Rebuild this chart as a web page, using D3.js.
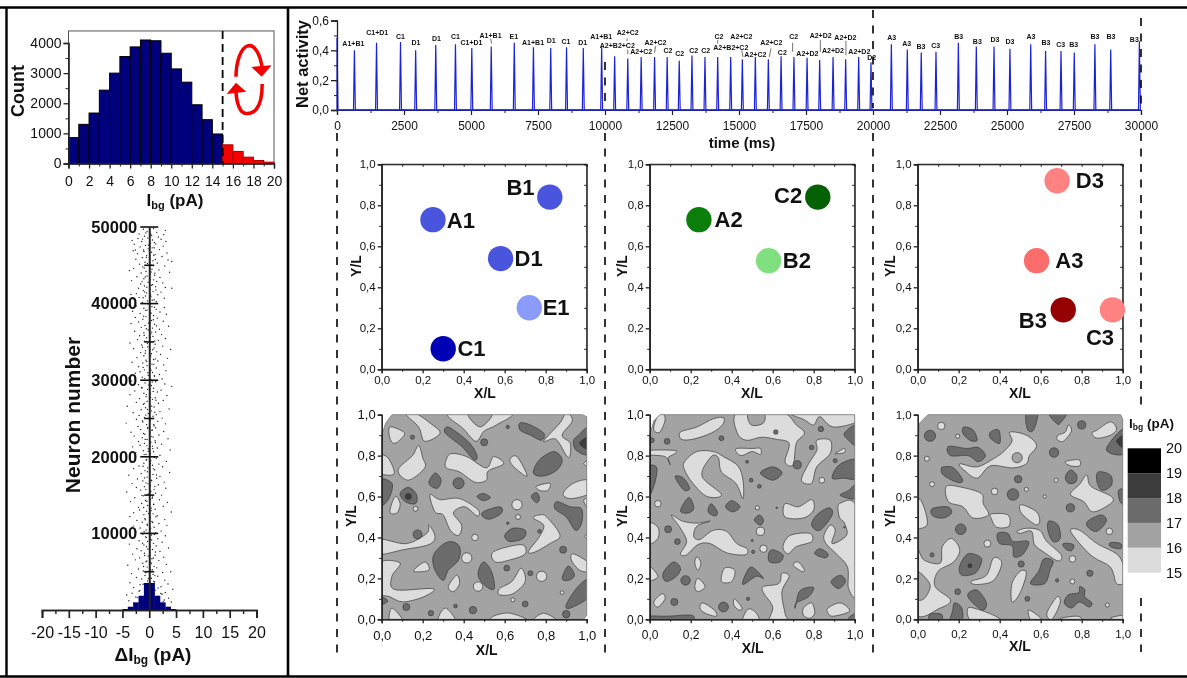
<!DOCTYPE html>
<html>
<head>
<meta charset="utf-8">
<script src="https://d3js.org/d3.v7.min.js"></script>
<style>
html, body { margin: 0; padding: 0; background: #fff; }
svg { display: block; filter: blur(0.4px); }
text { font-family: "Liberation Sans", Arial, sans-serif; fill: #111; }
</style>
</head>
<body>
<div id="chart"></div>
<script>
// top left histogram of background current
var ibgCounts = [860, 1300, 1675, 2435, 3000, 3550, 3870, 4100, 4075, 3660, 3140, 2700, 1950, 1455, 980, 620, 400, 210, 100, 45];
var ibgBinStart = d3.range(0, 20);

// bottom left histogram of current difference
var deltaBins = [-5, -4, -3, -2, -1, 0, 1, 2, 3, 4];
var deltaCounts = [470, 1550, 3600, 6700, 12700, 12700, 6700, 3600, 1550, 470];

// neuron scatter, pairs of delta Ibg and neuron number, read by eye
var scatterPoints = [
[3,49560],[2.7,49000],[-3.2,48250],[-2.6,47000],[3.1,48100],[4.2,45500],[-3.7,44300],[4.2,42000],[-3.4,41200],[-1.1,49700],[.8,49800],[-.4,49400],[1.4,49300],[-1.9,49100],[.3,49050],[-.9,48800],[1.7,48700],[-.3,48550],[2.2,48400],[-2.1,48500],[.6,48300],[-1.4,48100],[.2,47900],[1.2,47800],[-2.8,47750],[-.7,47600],[2.6,47500],[-1.7,47400],[.9,47300],[-.2,47150],[1.9,47050],[-3,46900],[-1,46800],[.4,46700],[3.3,46600],[-2.2,46500],[1.1,46400],[-.5,46250],[2.4,46150],[-1.3,46000],[.1,45900],[-2.5,45800],[3.5,45700],[.7,45600],[-.8,45400],[1.5,45300],[-1.8,45150],[.3,45050],[2.9,44900],[-1.2,44800],[-2.9,44600],[.5,44500],[1.8,44400],[-.6,44200],[3.8,44100],[-1.5,44000],[.2,43850],[1,43700],[-.4,43600],[-2.3,43500],[2,43400],[-1,43250],[.8,43100],[-3.3,43000],[1.4,42900],[-.2,42800],[2.5,42700],[-1.6,42550],[.4,42400],[-.9,42300],[1.2,42200],[3,42100],[-2,42000],[.1,41850],[-1.1,41700],[.7,41600],[2.2,41500],[-.5,41400],[-2.4,41300],[1.6,41150],[-.7,41000],[.3,40900],[-1.9,40800],[2.8,40700],[-3,40600],[.9,40500],[-.3,40350],[1.3,40250],[-1.3,40150],

[-3.9,39800],[-2.4,39700],[.5,39600],[2.8,39500],[-1,39400],[1.3,39250],[-.4,39150],[-3.1,39000],[2,38900],[.2,38800],[-1.7,38700],[3.2,38600],[.8,38450],[-.6,38300],[-2.6,38200],[1.5,38100],[-1.2,37950],[.4,37800],[2.6,37700],[-2,37600],[.1,37500],[-3.4,37400],[1,37300],[-.8,37150],[3.6,37050],[-1.5,36900],[.6,36800],[1.9,36650],[-.2,36550],[-2.7,36400],[1.2,36300],[-1,36200],[.3,36050],[2.3,35950],[-1.8,35800],[.7,35700],[-.5,35550],[3,35450],[-2.2,35300],[1.7,35200],[-.9,35100],[.2,34950],[-3.6,34850],[1.1,34700],[-1.4,34600],[2.5,34450],[-.3,34350],[.9,34200],[-2.9,34100],[4,34000],[-.7,33850],[1.4,33700],[-1.6,33600],[.4,33450],[2.1,33350],[-1,33200],[.1,33100],[-2.3,32950],[3.4,32850],[.8,32700],[-.6,32600],[1.6,32500],[-3.2,32350],[-1.2,32250],[.5,32100],[2.7,32000],[-.4,31900],[-2,31750],[1.3,31600],[.2,31500],[-.9,31350],[3.1,31250],[-1.7,31100],[.6,31000],[-2.6,30900],[1.9,30750],[-.2,30650],[1,30500],[-1.3,30400],[-3.8,30300],[2.4,30150],[.3,30050],

[-3.3,29900],[1.2,29800],[-.8,29650],[2.9,29500],[-2,29400],[.4,29300],[4.2,29200],[-1.4,29050],[.8,28950],[-.3,28800],[2.2,28700],[-2.7,28600],[1.5,28450],[-1,28300],[.2,28200],[-3.6,28100],[3.3,28000],[-.6,27850],[1.1,27700],[-1.8,27600],[.6,27500],[2.6,27350],[-.4,27250],[-2.4,27100],[1.7,27000],[-1.1,26850],[.1,26750],[-4.1,26600],[.9,26500],[-.7,26400],[3.7,26250],[-1.5,26150],[.4,26000],[2,25900],[-3,25750],[-.2,25650],[1.3,25500],[-1.9,25400],[.7,25300],[-.9,25150],[2.4,25050],[-2.4,24900],[.2,24800],[1.6,24650],[-1.2,24550],[-4.3,24400],[3,24300],[-.5,24200],[.9,24050],[-2.1,23950],[1.2,23800],[-.3,23700],[-1.6,23550],[.5,23450],[2.7,23300],[-3.4,23200],[.1,23100],[-.8,22950],[1.8,22850],[-2.8,22700],[.7,22600],[-1.3,22500],[3.5,22350],[-.4,22250],[1.1,22100],[-2,22000],[.3,21900],[-.9,21750],[2.3,21650],[-1.7,21500],[.6,21400],[-3.1,21300],[1.5,21150],[-.2,21050],[3.9,20900],[-1.1,20800],[.8,20650],[-2.5,20550],[.2,20450],[-.6,20300],[2,20200],[-1.4,20050],

[-2.6,19900],[1.3,19800],[-.5,19650],[.3,19500],[3.2,19400],[-3.4,19300],[-1,19150],[1.8,19050],[.6,18900],[-1.9,18800],[2.5,18700],[-.3,18550],[-2.9,18450],[1,18300],[-.8,18200],[.1,18050],[3.8,17950],[-1.5,17800],[.7,17700],[-3.8,17600],[2,17450],[-.4,17350],[1.4,17200],[-2.2,17100],[.4,16950],[-1.2,16850],[2.8,16700],[-.6,16600],[-3.2,16500],[1.7,16350],[.2,16250],[-.9,16100],[-2.4,16000],[3.1,15900],[.9,15750],[-1.6,15650],[.3,15500],[-4.2,15400],[1.2,15250],[-.2,15150],[2.3,15000],[-1.1,14900],[.6,14750],[-2.7,14650],[.1,14500],[1.9,14400],[-.7,14300],[-3.5,14150],[3.4,14050],[-1.4,13900],[.8,13800],[-.3,13650],[2.6,13550],[-2,13400],[.4,13300],[1.1,13150],[-1.8,13050],[-.5,12900],[4.1,12800],[-2.9,12700],[.7,12550],[-1,12450],[1.5,12300],[-3.6,12200],[.2,12050],[-.8,11950],[2.9,11800],[-2.3,11700],[.5,11550],[-1.3,11450],[1.8,11300],[-.4,11200],[3.3,11050],[-3,10950],[.9,10800],[-1.7,10700],[.1,10550],[-.6,10450],[2.2,10300],[-2.5,10200],[1.2,10050],

[-1.2,9900],[.4,9800],[3,9700],[-.7,9550],[-2.8,9450],[1.6,9300],[.2,9200],[-1.9,9050],[-.3,8950],[2.4,8850],[.8,8700],[-3.7,8600],[-1,8500],[1.3,8350],[-.5,8250],[3.6,8100],[-2.3,8000],[.6,7900],[-1.5,7750],[2,7650],[.1,7500],[-.9,7400],[-3.1,7300],[1.1,7150],[-.2,7050],[2.7,6900],[-1.8,6800],[.5,6700],[-2.6,6550],[1.8,6450],[-.6,6300],[.3,6200],[-1.2,6100],[3.2,5950],[-4,5850],[.9,5700],[-.4,5600],[1.4,5500],[-2,5350],[.2,5250],[-1.1,5100],[4,5000],[2.5,4900],[-3.3,4750],[.7,4650],[-.8,4500],[1.6,4400],[-2.4,4250],[.4,4150],[-1.4,4050],[2.9,3900],[-.3,3800],[1,3650],[-3.6,3550],[3.5,3400],[-1.7,3300],[.6,3200],[2.2,3050],[-2.9,2950],[-.6,2800],[4.4,2700],[1.2,2600],[-1.9,2450],[3,2300],[-3.2,2200],[2.4,2050],[-4.2,1950],[1.6,1800],[-2.5,1700],[3.6,1550],[-1.5,1450],[2.8,1300],[-3.8,1200],[4.1,1050],[-2.9,900]
];
// the denser cloud close to the axis
var scatterCore = [
[-.65,49230],[.45,48870],[-1.25,48420],[.95,47970],[-.15,47630],[.55,47280],[-1.05,46990],[.85,46320],[-.55,46040],[1.15,45770],[-.35,45240],[.75,44960],[-.95,44650],[.35,44120],[1.05,43960],[-.75,43470],[.15,43140],[-1.35,42870],[.65,42460],[-.45,42130],[1.25,41790],[-.85,41530],[.25,41120],[-1.15,40770],[.55,40430],[-.25,39970],[.95,39530],[-.65,39110],[.35,38740],[-1.05,38360],[.75,37890],[-.15,37460],[1.35,37090],[-.55,36710],[.45,36280],[-.95,35860],[.15,35590],[1.05,35110],[-.35,34780],[-1.25,34310],[.65,33980],[-.75,33520],[.25,33160],[1.15,32780],[-.45,32430],[.85,32060],[-1.15,31670],[.35,31320],[-.25,30970],[.95,30580],[-.85,30210],[.55,29770],[-.15,29360],[-1.35,28990],[.75,28540],[-.55,28120],[.25,27730],[1.25,27380],[-.95,26960],[.45,26610],[-.35,26180],[1.05,25810],[-.65,25440],[.15,25030],[-1.25,24680],[.85,24210],[-.25,23840],[.55,23490],[-1.05,23050],[.35,22640],[-.75,22270],[1.15,21860],[-.45,21430],[.65,21070],[-.15,20730],[-.95,20290],[.95,19920],[-.55,19560],[.25,19180],[-1.15,18760],[.75,18430],[-.35,18040],[1.35,17630],[-.85,17240],[.45,16880],[-.25,16470],[1.05,16110],[-.65,15720],[.15,15330],[-1.35,14960],[.55,14580],[-.45,14190],[.85,13760],[-1.05,13380],[.35,12970],[-.15,12620],[1.25,12180],[-.75,11790],[.65,11420],[-.35,11060],[.25,10670],[-.95,10230],[.95,9860],[-.55,9470],[.45,9130],[-1.25,8720],[.15,8340],[-.25,7960],[1.15,7580],[-.85,7120],[.75,6780],[-.45,6390],[.35,6030],[-1.05,5670],[.55,5260],[-.65,4860],[1.05,4490],[-.15,4110],[.85,3720],[-1.15,3360],[1.65,2880],[-1.75,2530],[.25,3090],[2.15,2160],[-2.2,1620],[2.6,1130]
];
var neuronTicks = [10000, 20000, 30000, 40000, 50000];
var neuronMinorTicks = [5000, 15000, 25000, 35000, 45000];
var deltaTicks = [-20, -15, -10, -5, 0, 5, 10, 15, 20];

// net activity spikes
var spikeTimes = [0, 650, 1475, 2370, 2935, 3685, 4420, 5030, 5755, 6615, 7330, 7975, 8565, 9190, 9875, 10360, 10850, 11350, 11850, 12320, 12770, 13245, 13730, 14205, 14690, 15125, 15610, 16095, 16570, 17050, 17540, 18010, 18510, 18980, 19465, 19925, 20685, 21280, 21800, 22350, 23185, 23855, 24515, 25110, 25885, 26440, 27015, 27510, 28280, 28870, 29940];
var spikeValues = [0.485, 0.40, 0.45, 0.455, 0.40, 0.435, 0.44, 0.415, 0.425, 0.45, 0.42, 0.415, 0.42, 0.415, 0.42, 0.36, 0.345, 0.355, 0.355, 0.355, 0.33, 0.365, 0.355, 0.355, 0.355, 0.34, 0.355, 0.34, 0.36, 0.355, 0.35, 0.335, 0.355, 0.34, 0.355, 0.32, 0.44, 0.405, 0.385, 0.39, 0.45, 0.425, 0.425, 0.41, 0.44, 0.395, 0.395, 0.385, 0.44, 0.405, 0.46];

// pattern labels over the spikes, with their time and level
var patternNames = ["A1+B1", "C1+D1", "C1", "D1", "D1", "C1", "C1+D1", "A1+B1", "E1", "A1+B1", "D1", "C1", "D1", "A1+B1", "A2+B2+C2", "A2+C2", "A2+C2", "A2+C2", "C2", "C2", "C2", "C2", "C2", "A2+B2+C2", "A2+C2", "A2+C2", "A2+C2", "C2", "C2", "A2+D2", "A2+D2", "A2+D2", "A2+D2", "A2+D2", "D2", "A3", "A3", "B3", "C3", "B3", "B3", "D3", "D3", "A3", "B3", "C3", "B3", "B3", "B3", "B3"];
var patternTimes = [610, 1500, 2370, 2945, 3710, 4420, 5020, 5730, 6600, 7315, 7990, 8540, 9165, 9860, 10460, 10850, 11350, 11885, 12350, 12785, 13310, 13760, 14255, 14695, 15087, 15610, 16206, 16617, 17040, 17550, 18047, 18507, 18968, 19490, 19950, 20697, 21256, 21790, 22338, 23197, 23893, 24552, 25112, 25896, 26455, 27002, 27488, 28284, 28881, 29751];
var patternLevels = [0.443, 0.517, 0.49, 0.45, 0.48, 0.492, 0.452, 0.50, 0.49, 0.454, 0.468, 0.459, 0.454, 0.49, 0.43, 0.519, 0.392, 0.454, 0.396, 0.379, 0.399, 0.399, 0.49, 0.421, 0.494, 0.372, 0.452, 0.388, 0.49, 0.379, 0.497, 0.399, 0.488, 0.394, 0.352, 0.488, 0.443, 0.425, 0.434, 0.49, 0.459, 0.47, 0.461, 0.49, 0.454, 0.439, 0.439, 0.49, 0.49, 0.472];
var leaderLines = [[5730, .479, 5770, .445], [10825, .479, 10825, .463], [10850, .405, 10850, .374], [11885, .428, 11850, .383], [14205, .468, 14205, .445], [15100, .40, 15150, .356], [16194, .412, 16132, .356], [17002, .45, 17002, .39], [18035, .468, 18035, .39], [18990, .463, 18990, .367]];

// stimulus positions in each square
var sitePanels = [
  { names: ["A1", "B1", "D1", "E1", "C1"], xs: [.25, .82, .58, .72, .30], ys: [.73, .84, .54, .30, .10],
    colors: ["#4a55de", "#4a55de", "#4a55de", "#8b9bfa", "#0000b4"],
    nameXs: [.386, .677, .717, .851, .438], nameYs: [.727, .885, .54, .302, .10] },
  { names: ["A2", "C2", "B2"], xs: [.24, .82, .58], ys: [.73, .84, .53],
    colors: ["#0b7d0b", "#056105", "#80e080"],
    nameXs: [.385, .675, .718], nameYs: [.733, .85, .533] },
  { names: ["D3", "A3", "B3", "C3"], xs: [.68, .58, .71, .95], ys: [.92, .53, .29, .29],
    colors: ["#ff8282", "#fb6c6c", "#950000", "#ff8282"],
    nameXs: [.84, .74, .562, .889], nameYs: [.92, .533, .24, .153] }
];

// contour regions of the Ibg maps, traced as x/L, y/L outlines
var map1Edge = [[0, .90], [.02, .96], [.05, 1], [.98, 1], [1, .99], [1, .02], [.985, 0], [0, 0]];
var map1Light = [
[[.04,.94],[.10,.92],[.11,.90],[.065,.86],[.04,.885]],
[[.11,1.01],[.18,.94],[.21,.87],[.285,.91],[.235,.96],[.16,1.01]],
[[.33,1.01],[.40,.93],[.46,.87],[.50,.92],[.56,.95],[.63,1.01]],
[[.87,.96],[.79,.87],[.85,.88],[.91,.79],[.92,.86],[.88,.90],[.93,.97],[.90,1.01]],
[[-.02,.80],[.03,.79],[.06,.71],[-.02,.72]],
[[.18,.85],[.20,.79],[.21,.74],[.13,.68],[.08,.73],[.15,.80]],
[[.34,.81],[.415,.795],[.51,.74],[.545,.795],[.595,.76],[.52,.725],[.51,.68],[.455,.67],[.38,.72],[.315,.74],[.315,.78]],
[[.625,.78],[.66,.795],[.71,.70],[.65,.74]],
[[.755,.65],[.82,.665],[.81,.63],[.77,.63]],
[[.885,.615],[.935,.665],[1.01,.68],[1.01,.615],[.92,.59]],
[[.235,.61],[.285,.585],[.38,.59],[.47,.535],[.465,.505],[.405,.55],[.35,.52],[.39,.46],[.375,.41],[.335,.435],[.30,.51],[.26,.525]],
[[.065,.60],[.09,.565],[.075,.52],[.04,.525]],
[[.77,.51],[.805,.50],[.87,.41],[.82,.37],[.75,.33],[.715,.33],[.77,.405],[.79,.46],[.74,.495]],
[[-.01,.39],[.12,.37],[.22,.42],[.23,.46],[.26,.405],[.23,.365],[.105,.34],[-.01,.32]],
[[.545,.33],[.68,.365],[.70,.32],[.625,.29],[.555,.28]],
[[-.01,.275],[.09,.275],[.05,.21],[.065,.145],[.25,.15],[.205,.11],[.105,.085],[.04,.11],[-.01,.135]],
[[.21,.28],[.23,.24],[.155,.235]],
[[.365,.215],[.38,.175],[.35,.135],[.325,.16]],
[[.68,.25],[.70,.185],[.64,.125],[.575,.12],[.575,.15],[.635,.185]],
[[.935,.32],[1.01,.275],[1.01,.235],[.965,.24],[.925,.29]],
[[.05,.055],[.105,-.01],[.04,-.01]],
[[.31,.055],[.36,-.01],[.275,-.01]],
[[.545,.015],[.625,.03],[.715,-.01],[.545,-.01]],
[[.79,.03],[.855,-.01],[.74,-.01]],
[[1.01,.59],[.985,.58],[1.01,.535]],
[[1.01,.78],[.985,.76],[1.01,.745]],
[[1.01,.42],[.99,.405],[1.01,.39]]
];
var map1LightSpots = [[.165,.54,.012],[.66,.56,.025],[.665,.50,.012],[.455,.40,.016],[.415,.30,.025],[.47,.16,.023],[.78,.21,.025],[.64,.095,.01],[.88,.13,.009]];
var map1Holes = [[[.42,1.01],[.48,.94],[.54,1.01]]];
var map1HoleSpots = [];
var map1Dark = [
[[.32,.94],[.365,.915],[.43,.86],[.465,.80],[.45,.78],[.39,.845],[.31,.91]],
[[.675,.96],[.725,.95],[.79,.91],[.78,.875],[.725,.90],[.675,.925]],
[[.96,.90],[1.01,.935],[1.01,.81],[.95,.825],[.935,.87]],
[[.84,.82],[.88,.78],[.855,.73],[.79,.70],[.74,.715],[.77,.78]],
[[-.01,.68],[.05,.665],[.04,.60],[.01,.56],[-.01,.565]],
[[.26,.715],[.29,.68],[.27,.64],[.23,.665]],
[[.13,.645],[.17,.61],[.165,.565],[.115,.575],[.09,.615]],
[[.495,.615],[.53,.595],[.495,.58],[.465,.60]],
[[.755,.62],[.77,.59],[.755,.57],[.73,.60]],
[[.855,.575],[.92,.55],[.975,.54],[.975,.47],[.945,.435],[.90,.50],[.845,.54]],
[[.495,.525],[.575,.55],[.585,.52],[.53,.49],[.495,.50]],
[[.64,.445],[.70,.435],[.69,.395],[.625,.38],[.60,.41]],
[[.335,.38],[.38,.355],[.375,.29],[.325,.24],[.30,.19],[.26,.24],[.25,.305],[.285,.355]],
[[.495,.28],[.535,.235],[.55,.15],[.51,.16],[.47,.215]],
[[.91,.26],[.94,.215],[.91,.19],[.88,.20]],
[[.99,.19],[1.01,.19],[1.01,.11],[.92,.055],[.90,.07],[.945,.145]],
[[-.01,.11],[.03,.09],[-.01,.07]]
];
var map1DarkSpots = [[.375,.665,.027],[.175,.415,.022],[.50,.865,.017],[.615,.94,.008],[.15,.89,.01],[.885,.34,.017],[.61,.25,.014],[.725,.225,.012],[.12,.06,.017],[.24,.03,.013],[.36,.065,.009],[.70,.075,.014],[.445,.045,.018],[.90,.025,.018],[.77,.43,.009],[.615,.47,.006]];
var map1Darker = [[[.965,.86],[1.01,.89],[1.01,.83]]];
var map1DarkerSpots = [[.13,.60,.015]];

var map2Edge = [[0, .90], [.02, .97], [.05, 1], [1, 1], [1, 0], [0, 0]];
var map2Light = [
[[.06,1.01],[.075,.975],[.05,.915],[.02,.925],[.03,.975]],
[[.15,.915],[.23,.94],[.31,.98],[.36,.985],[.355,.95],[.30,.91],[.21,.88],[.155,.88]],
[[.43,1.01],[.425,.915],[.47,.875],[.545,.89],[.615,.88],[.68,.86],[.66,.77],[.70,.755],[.715,.86],[.755,.91],[.715,.95],[.645,1.01]],
[[.70,1.01],[.755,.975],[.80,.95],[.83,.99],[.895,.94],[1.01,.965],[1.01,1.01]],
[[-.01,.825],[.125,.825],[.115,.805],[.09,.79],[.10,.755],[.075,.795],[-.01,.805]],
[[.425,.835],[.50,.835],[.54,.835],[.54,.805],[.50,.82],[.45,.80],[.425,.815]],
[[.17,.77],[.23,.82],[.31,.82],[.36,.795],[.43,.75],[.455,.68],[.455,.59],[.42,.665],[.35,.72],[.335,.79],[.30,.795],[.255,.70],[.35,.61],[.28,.60],[.21,.665],[.17,.73]],
[[.815,.875],[.88,.875],[.88,.81],[.815,.745],[.79,.665],[.74,.68],[.775,.76],[.815,.825]],
[[.905,.81],[.95,.835],[.95,.815],[.92,.81]],
[[.66,.565],[.725,.55],[.79,.585],[.80,.535],[.75,.495],[.66,.50]],
[[.925,.565],[1.01,.54],[1.01,.135],[.97,.15],[.965,.255],[.91,.32],[.86,.37],[.85,.41],[.88,.46],[.905,.435],[.89,.37],[.96,.41],[.95,.47],[.925,.50]],
[[-.01,.47],[.04,.45],[.04,.395],[-.01,.37]],
[[.105,.51],[.16,.48],[.23,.47],[.295,.48],[.23,.455],[.215,.405],[.245,.39],[.31,.435],[.375,.43],[.425,.37],[.475,.345],[.465,.315],[.375,.325],[.295,.37],[.235,.365],[.18,.315],[.15,.32],[.18,.38],[.15,.445]],
[[.685,.41],[.78,.42],[.79,.38],[.715,.355],[.675,.32],[.65,.355]],
[[.23,.305],[.25,.275],[.235,.24],[.22,.275]],
[[.725,.28],[.755,.24],[.74,.235],[.70,.265]],
[[-.01,.265],[.04,.21],[-.01,.19]],
[[.365,.25],[.415,.24],[.40,.185],[.35,.185]],
[[.235,.20],[.27,.16],[.235,.135],[.22,.16]],
[[.555,.16],[.63,.175],[.645,.225],[.68,.21],[.645,.135],[.66,.03],[.67,-.01],[.585,-.01],[.60,.06],[.555,.13]],
[[.06,.125],[.075,.10],[.04,.06],[.02,.085]],
[[.26,.08],[.315,.045],[.325,.015],[.27,.03],[.245,.055]],
[[.415,.10],[.45,.055],[.435,.045],[.41,.07]],
[[.75,.055],[.79,.08],[.805,.03],[.78,.005],[.75,.02]],
[[.87,.055],[.93,.08],[.975,.04],[.895,.015],[.87,.03]],
[[.455,-.01],[.48,.05],[.52,.03],[.53,-.01]]
];
var map2LightSpots = [[.84,.68,.014],[.04,.565,.016],[.525,.545,.01],[.54,.43,.02],[.555,.345,.018]];
var map2Holes = [[[.48,1.01],[.495,.95],[.555,.96],[.555,1.01]]];
var map2HoleSpots = [];
var map2Dark = [
[[.95,.91],[1.01,.95],[1.01,.85],[.965,.88]],
[[.60,.745],[.645,.715],[.60,.68],[.54,.715]],
[[.89,.69],[.925,.755],[1.01,.78],[1.01,.69],[.945,.69]],
[[-.01,.74],[.035,.74],[.02,.65],[-.01,.60]],
[[.125,.70],[.165,.69],[.195,.64],[.17,.63],[.14,.665]],
[[1.01,.66],[1.01,.59],[.93,.605],[.97,.63]],
[[.19,.595],[.215,.545],[.19,.52],[.15,.53]],
[[.30,.565],[.33,.525],[.32,.505],[.285,.525]],
[[.40,.58],[.44,.55],[.405,.525],[.37,.55]],
[[.875,.545],[.89,.51],[.83,.435],[.79,.46],[.815,.51]],
[[.535,.51],[.555,.485],[.54,.46],[.51,.485]],
[[.60,.34],[.65,.315],[.635,.28],[.585,.28],[.58,.32]],
[[.83,.345],[.87,.32],[.855,.30],[.805,.32]],
[[.115,.28],[.15,.25],[.13,.21],[.08,.185],[.065,.225]],
[[.50,.255],[.555,.20],[.52,.21],[.455,.17],[.47,.225]],
[[.93,.215],[.955,.185],[.92,.15],[.885,.185]],
[[.80,.155],[.775,.11],[.715,.08],[.71,.055],[.725,.125],[.75,.15]],
[[-.01,.015],[.085,.015],[.205,.02],[.19,-.01],[-.01,-.01]],
[[.97,.005],[1.01,.03],[1.01,-.01]]
];
var map2DarkSpots = [[.085,.87,.014],[.01,.875,.012],[.35,.885,.012],[.615,.915,.011],[.835,.93,.013],[.79,.84,.011],[.72,.755,.02],[.905,.775,.01],[.475,.77,.007],[.495,.68,.009],[.535,.65,.009],[.09,.44,.017],[.135,.38,.014],[.175,.19,.023],[.12,.085,.017],[.36,.06,.024],[.48,.10,.008],[.505,.33,.008],[.50,.385,.005],[.62,.545,.004],[.95,.45,.004]];
var map2Darker = [];
var map2DarkerSpots = [];

var map3Edge = [[0, .86], [.01, .96], [.05, 1], [.99, 1], [1, .98], [1, 0], [0, 0]];
var map3Light = [
[[.875,.925],[.94,.965],[.97,.93],[.94,.90],[.875,.885],[.85,.91]],
[[.735,.95],[.75,.92],[.71,.87],[.68,.88],[.685,.90],[.72,.915]],
[[.45,.915],[.53,.90],[.58,.85],[.545,.80],[.53,.76],[.465,.74],[.355,.75],[.29,.69],[.225,.73],[.205,.76],[.29,.745],[.37,.785],[.42,.82],[.46,.87]],
[[.72,.77],[.785,.78],[.79,.75],[.745,.75]],
[[.14,.65],[.215,.645],[.31,.615],[.32,.565],[.345,.51],[.27,.495],[.22,.55],[.15,.575]],
[[.825,.705],[.845,.65],[.945,.60],[.94,.565],[.855,.525],[.81,.575],[.745,.61],[.79,.66]],
[[.36,.515],[.44,.51],[.445,.455],[.385,.45],[.36,.49]],
[[.505,.56],[.58,.525],[.595,.475],[.57,.465],[.505,.52]],
[[.485,.43],[.53,.445],[.595,.435],[.63,.38],[.70,.315],[.685,.285],[.62,.325],[.57,.365],[.555,.43],[.50,.42]],
[[.745,.435],[.79,.435],[.875,.37],[.985,.305],[1.01,.19],[.97,.175],[.94,.255],[.855,.305],[.79,.37]],
[[-.01,.345],[.03,.29],[.11,.275],[.12,.355],[.165,.395],[.205,.34],[.175,.28],[.10,.235],[.085,.16],[.16,.095],[.11,.055],[-.01,.03]],
[[.005,.585],[.035,.535],[.045,.46],[-.01,.455]],
[[.37,.30],[.41,.275],[.37,.19],[.29,.17],[.26,.185],[.335,.215]],
[[.50,.235],[.53,.225],[.50,.13],[.46,.085],[.46,.175]],
[[.68,.11],[.695,.08],[.655,0],[.63,.03]],
[[.245,.055],[.305,.045],[.38,.015],[.40,-.01],[.265,-.01]],
[[.54,.045],[.59,.015],[.605,-.01],[.555,-.01]],
[[.70,.005],[.78,.015],[.80,-.01],[.69,-.01]],
[[.94,.005],[1.01,.02],[1.01,-.01]]
];
var map3LightSpots = [[.115,.945,.018],[.195,.895,.01],[.045,.785,.012],[.07,.66,.012],[.375,.625,.016],[.53,.635,.01],[.62,.60,.008],[.675,.68,.01],[.34,.37,.017],[.755,.295,.016],[.935,.43,.016],[.755,.185,.012],[.925,.07,.01]];
var map3Holes = [[[-.01,.235],[.06,.17],[.03,.10],[-.01,.11]]];
var map3HoleSpots = [[.485,.79,.025]];
var map3Dark = [
[[.225,.94],[.27,.925],[.29,.875],[.255,.875],[.22,.91]],
[[.355,.915],[.395,.925],[.40,.86],[.355,.885]],
[[.53,1.01],[.585,1.01],[.565,.925],[.535,.93]],
[[.64,1.01],[.725,1.01],[.70,.965],[.68,.955]],
[[.92,.83],[1.01,.935],[1.01,.81]],
[[.15,.845],[.24,.835],[.295,.84],[.33,.80],[.295,.77],[.245,.80],[.16,.80]],
[[.125,.745],[.175,.74],[.22,.68],[.19,.67],[.125,.705],[.115,.735]],
[[.745,.73],[.775,.705],[.77,.67],[.735,.665],[.72,.695]],
[[.88,.72],[.94,.705],[.945,.655],[.90,.63],[.875,.67]],
[[.98,.63],[1.01,.63],[1.01,.56],[.985,.58]],
[[.07,.54],[.145,.55],[.165,.52],[.125,.495],[.075,.505]],
[[.83,.48],[.895,.51],[.92,.48],[.875,.43],[.83,.45]],
[[.64,.48],[.685,.46],[.695,.395],[.66,.38],[.635,.435]],
[[.39,.42],[.44,.42],[.465,.38],[.54,.38],[.515,.32],[.47,.305],[.46,.36],[.40,.37]],
[[.71,.37],[.76,.365],[.75,.335],[.72,.345]],
[[.94,.375],[.99,.37],[.99,.345],[.94,.355]],
[[.245,.32],[.305,.305],[.31,.275],[.28,.225],[.215,.215],[.205,.26]],
[[.615,.295],[.66,.285],[.645,.24],[.62,.175],[.55,.175],[.59,.235]],
[[.255,.135],[.295,.14],[.335,.08],[.32,.045],[.28,.07],[.245,.11]],
[[.18,.08],[.215,.055],[.215,-.01],[.16,-.01],[.17,.04]],
[[.06,.025],[.115,.025],[.115,-.01],[.06,-.01]],
[[.735,.12],[.785,.13],[.79,.16],[.815,.145],[.815,.11],[.85,.08],[.835,.06],[.79,.085],[.75,.055],[.715,.08]]
];
var map3DarkSpots = [[.06,.897,.027],[.80,.95,.02],[.665,.815,.023],[.49,.685,.018],[.465,.61,.028],[.745,.545,.02],[.21,.44,.026],[.07,.315,.01],[.505,.27,.015],[.68,.19,.008],[.84,.225,.015],[.195,.135,.014],[.535,.10,.012]];
var map3Darker = [[[.97,.87],[1.01,.90],[1.01,.835]]];
var map3DarkerSpots = [[.255,.262,.01]];

var mapPanels = [
  { edge: map1Edge, light: map1Light, lightSpots: map1LightSpots, holes: map1Holes, holeSpots: map1HoleSpots, dark: map1Dark, darkSpots: map1DarkSpots, darker: map1Darker, darkerSpots: map1DarkerSpots },
  { edge: map2Edge, light: map2Light, lightSpots: map2LightSpots, holes: map2Holes, holeSpots: map2HoleSpots, dark: map2Dark, darkSpots: map2DarkSpots, darker: map2Darker, darkerSpots: map2DarkerSpots },
  { edge: map3Edge, light: map3Light, lightSpots: map3LightSpots, holes: map3Holes, holeSpots: map3HoleSpots, dark: map3Dark, darkSpots: map3DarkSpots, darker: map3Darker, darkerSpots: map3DarkerSpots }
];

var legendLevels = [20, 19, 18, 17, 16, 15];
var legendColors = ["#000000", "#3c3c3c", "#6c6c6c", "#a3a3a3", "#dcdcdc"];

var width = 1187, height = 678;
var svg = d3.select("#chart").append("svg").attr("width", width).attr("height", height);

var comma = function (d) { return d3.format(".1f")(d).replace(".", ","); };
var axisColor = "#222";

// restyle an axis group: same colour, optional stroke width
function styleAxis(g, strokeWidth, fontSize, weight) {
	g.select(".domain").attr("stroke", axisColor).attr("stroke-width", strokeWidth);
	g.selectAll(".tick line").attr("stroke", axisColor).attr("stroke-width", strokeWidth);
	g.selectAll("text").attr("fill", "#111").style("font-size", fontSize + "px");
	g.attr("font-family", null);
	if (weight) g.selectAll("text").style("font-weight", weight);
}

function addText(x, y, str, size, opts) {
	opts = opts || {};
	var t = svg.append("text")
		.attr("x", x).attr("y", y)
		.attr("text-anchor", opts.anchor || "middle")
		.attr("dominant-baseline", "central")
		.style("font-size", size + "px")
		.style("font-weight", opts.bold ? "bold" : "normal");
	if (opts.rotate) t.attr("transform", "rotate(-90," + x + "," + y + ")");
	t.text(str);
	return t;
}

// outer frame
var frame = svg.append("g").attr("stroke", "#000").attr("fill", "none");
frame.append("path").attr("stroke-width", 2.4).attr("d", "M0,7.5H1187M6.5,7.5V676.5M0,676.5H1187");
frame.append("path").attr("stroke-width", 2.6).attr("d", "M288,7.5V676.5");

// ---- histogram of Ibg
var histX = d3.scaleLinear().domain([0, 20]).range([68.5, 274]);
var histY = d3.scaleLinear().domain([0, 4000]).range([163.5, 43]);
var histTop = histY(4400);

svg.append("rect").attr("x", histX(0)).attr("y", histTop)
	.attr("width", histX(20) - histX(0)).attr("height", histY(0) - histTop)
	.attr("fill", "none").attr("stroke", "#555").attr("stroke-width", 1);

svg.append("g").selectAll("rect")
	.data(ibgCounts)
	.enter().append("rect")
	.attr("x", function (d, i) { return histX(ibgBinStart[i]); })
	.attr("y", function (d) { return histY(d); })
	.attr("width", histX(1) - histX(0))
	.attr("height", function (d) { return histY(0) - histY(d); })
	.attr("fill", function (d, i) { return ibgBinStart[i] < 15 ? "#00007c" : "#f60000"; })
	.attr("stroke", function (d, i) { return ibgBinStart[i] < 15 ? "#000" : "#a80000"; })
	.attr("stroke-width", 1);

svg.append("g").attr("transform", "translate(0," + histY(0) + ")")
	.call(d3.axisBottom(histX).tickValues(d3.range(0, 21, 2)).tickSize(5).tickPadding(8))
	.call(styleAxis, 1.3, 14);
svg.append("g").attr("transform", "translate(0," + histY(0) + ")")
	.call(d3.axisBottom(histX).tickValues(d3.range(1, 20, 2)).tickSize(3).tickFormat(""))
	.call(styleAxis, 1, 14);
svg.append("g").attr("transform", "translate(" + histX(0) + ",0)")
	.call(d3.axisLeft(histY).tickValues([0, 1000, 2000, 3000, 4000]).tickSize(5).tickPadding(2).tickFormat(d3.format("d")))
	.call(styleAxis, 1.3, 14);
svg.append("g").attr("transform", "translate(" + histX(0) + ",0)")
	.call(d3.axisLeft(histY).tickValues([500, 1500, 2500, 3500]).tickSize(3).tickFormat(""))
	.call(styleAxis, 1, 14);

addText(18, 91, "Count", 18, { bold: true, rotate: true });
var ibgTitle = addText(175, 200, "I", 17, { bold: true });
ibgTitle.append("tspan").attr("dy", 5).style("font-size", "11px").text("bg");
ibgTitle.append("tspan").attr("dy", -5).text(" (pA)");

svg.append("line").attr("x1", histX(15)).attr("x2", histX(15)).attr("y1", histTop).attr("y2", histY(0))
	.attr("stroke", "#000").attr("stroke-width", 1.8).attr("stroke-dasharray", "8,5");

// red circular arrows, drawn in the histogram's own units
var loopColor = "#f40000";
var loopRx = histX(1.3) - histX(0), loopRy = histY(0) - histY(1050);
svg.append("path").attr("fill", "none").attr("stroke", loopColor).attr("stroke-width", 3.5)
	.attr("d", "M" + histX(16.3) + "," + histY(2880) + "A" + loopRx + "," + loopRy + " 0 0 1 " + histX(18.85) + "," + histY(3150));
svg.append("path").attr("fill", "none").attr("stroke", loopColor).attr("stroke-width", 3.5)
	.attr("d", "M" + histX(18.85) + "," + histY(2640) + "C" + histX(18.85) + "," + histY(1700) + " " + histX(17.8) + "," + histY(1650) + " " + histX(17.3) + "," + histY(1660)
		+ "C" + histX(16.7) + "," + histY(1660) + " " + histX(16.3) + "," + histY(2000) + " " + histX(16.3) + "," + histY(2500));
svg.append("path").attr("fill", loopColor)
	.attr("d", d3.line()([[histX(17.8), histY(3207)], [histX(19.77), histY(3260)], [histX(18.8), histY(2876)]]) + "Z");
svg.append("path").attr("fill", loopColor)
	.attr("d", d3.line()([[histX(15.39), histY(2303)], [histX(17.3), histY(2380)], [histX(16.3), histY(2678)]]) + "Z");

// ---- neuron scatter with delta histogram
var neuX = d3.scaleLinear().domain([-20, 20]).range([42, 256.5]);
var neuY = d3.scaleLinear().domain([0, 50000]).range([610, 227]);
var neuH = d3.scaleLinear().domain([0, 12700]).range([610, 583]);

svg.append("g").selectAll("circle")
	.data(scatterPoints.concat(scatterCore))
	.enter().append("circle")
	.attr("cx", function (d) { return neuX(d[0]); })
	.attr("cy", function (d) { return neuY(d[1]); })
	.attr("r", 0.7)
	.attr("fill", "#222");

svg.append("g").selectAll("rect")
	.data(deltaCounts)
	.enter().append("rect")
	.attr("x", function (d, i) { return neuX(deltaBins[i]); })
	.attr("y", function (d) { return neuH(d); })
	.attr("width", neuX(1) - neuX(0) + 0.3)
	.attr("height", function (d) { return neuH(0) - neuH(d); })
	.attr("fill", "#00007c");

var neuAxis = svg.append("g").attr("transform", "translate(" + neuX(0) + ",0)");
neuAxis.append("g").call(d3.axisLeft(neuY).tickValues(neuronTicks).tickSize(0).tickPadding(12).tickFormat(d3.format("d")))
	.call(styleAxis, 2, 16.5, "bold");
neuAxis.selectAll(".majorTick").data(neuronTicks).enter().append("line").attr("class", "majorTick")
	.attr("x1", -9).attr("x2", 9)
	.attr("y1", function (d) { return neuY(d); }).attr("y2", function (d) { return neuY(d); })
	.attr("stroke", "#111").attr("stroke-width", 1.6);
neuAxis.selectAll(".minorTick").data(neuronMinorTicks).enter().append("line").attr("class", "minorTick")
	.attr("x1", -5).attr("x2", 5)
	.attr("y1", function (d) { return neuY(d); }).attr("y2", function (d) { return neuY(d); })
	.attr("stroke", "#111").attr("stroke-width", 1.6);

svg.append("g").attr("transform", "translate(0," + neuY(0) + ")")
	.call(d3.axisBottom(neuX).tickValues(deltaTicks).tickSize(8).tickPadding(9).tickFormat(String))
	.call(styleAxis, 1.7, 16);
svg.append("g").attr("transform", "translate(0," + neuY(0) + ")")
	.call(d3.axisBottom(neuX).tickValues(d3.range(-17.5, 20, 5)).tickSize(4).tickFormat(""))
	.call(styleAxis, 1.4, 16);

addText(72, 415, "Neuron number", 21, { bold: true, rotate: true });
var deltaTitle = addText(153, 654, "ΔI", 19, { bold: true });
deltaTitle.append("tspan").attr("dy", 6).style("font-size", "12px").text("bg");
deltaTitle.append("tspan").attr("dy", -6).text(" (pA)");

// ---- net activity trace
var timeX = d3.scaleLinear().domain([0, 30000]).range([337, 1141]);
var netY = d3.scaleLinear().domain([0, 0.6]).range([110, 20.5]);

var trace = [[0, 0]];
spikeTimes.forEach(function (t, i) {
	trace.push([t - 35, 0], [t, spikeValues[i]], [t + 35, 0]);
});
trace.push([30000, 0]);
var traceLine = d3.line()
	.x(function (d) { return Math.max(timeX(d[0]), 337); })
	.y(function (d) { return netY(d[1]); });

svg.append("path").attr("fill", "none").attr("stroke", "#1c22d8").attr("stroke-width", 1.2).attr("d", traceLine(trace));

svg.append("g").attr("transform", "translate(0," + netY(0) + ")")
	.call(d3.axisBottom(timeX).tickValues(d3.range(0, 30001, 2500)).tickSize(5).tickPadding(6).tickFormat(d3.format("d")))
	.call(styleAxis, 1.2, 12);
svg.append("g").attr("transform", "translate(0," + netY(0) + ")")
	.call(d3.axisBottom(timeX).tickValues(d3.range(1250, 30000, 2500)).tickSize(3).tickFormat(""))
	.call(styleAxis, 1, 12);
svg.append("g").attr("transform", "translate(" + timeX(0) + ",0)")
	.call(d3.axisLeft(netY).tickValues([0, 0.2, 0.4, 0.6]).tickSize(6).tickPadding(2).tickFormat(comma))
	.call(styleAxis, 1.3, 12);
svg.append("g").attr("transform", "translate(" + timeX(0) + ",0)")
	.call(d3.axisLeft(netY).tickValues([0.1, 0.3, 0.5]).tickSize(3).tickFormat(""))
	.call(styleAxis, 1, 12);
// baseline goes over the axis
svg.append("line").attr("x1", timeX(0)).attr("x2", timeX(30000)).attr("y1", netY(0)).attr("y2", netY(0))
	.attr("stroke", "#1c22d8").attr("stroke-width", 1.4);

svg.append("g").selectAll("text")
	.data(patternNames)
	.enter().append("text")
	.attr("x", function (d, i) { return timeX(patternTimes[i]); })
	.attr("y", function (d, i) { return netY(patternLevels[i]); })
	.attr("text-anchor", "middle").attr("dominant-baseline", "central")
	.style("font-size", "7px").style("font-weight", "bold")
	.text(function (d) { return d; });

svg.append("g").selectAll("line")
	.data(leaderLines)
	.enter().append("line")
	.attr("x1", function (d) { return timeX(d[0]); })
	.attr("y1", function (d) { return netY(d[1]); })
	.attr("x2", function (d) { return timeX(d[2]); })
	.attr("y2", function (d) { return netY(d[3]); })
	.attr("stroke", "#333").attr("stroke-width", 0.7);

addText(742, 142, "time (ms)", 15, { bold: true });
addText(302, 64, "Net activity", 16.5, { bold: true, rotate: true });

// ---- long dashed separators, time position and y span
var separators = [
	[0, 133, 660], [10000, 133, 660], [20000, 133, 660], [30000, 133, 405],
	[10000, 62, 108], [20000, 10, 108], [30000, 18, 108], [30000, 598, 652]
];
svg.append("g").selectAll("line")
	.data(separators)
	.enter().append("line")
	.attr("x1", function (d) { return timeX(d[0]); })
	.attr("x2", function (d) { return timeX(d[0]); })
	.attr("y1", function (d) { return d[1]; })
	.attr("y2", function (d) { return d[2]; })
	.attr("stroke", "#000").attr("stroke-width", 1.6).attr("stroke-dasharray", "8,7.5");

// ---- shared axes for the square panels
var panelLefts = [381.7, 649.7, 917.7];
var panelSize = 205;
var mapLabelSizes = [13, 12, 11.5];

function squareAxes(g, x, y, size, tickLen, pad) {
	var ticks = [0, .2, .4, .6, .8, 1], minors = [.1, .3, .5, .7, .9];
	g.append("g").attr("transform", "translate(0," + y(0) + ")")
		.call(d3.axisBottom(x).tickValues(ticks).tickSize(tickLen).tickPadding(pad).tickFormat(comma))
		.call(styleAxis, 1.3, size);
	g.append("g").attr("transform", "translate(0," + y(0) + ")")
		.call(d3.axisBottom(x).tickValues(minors).tickSize(tickLen - 1.5).tickFormat(""))
		.call(styleAxis, 1, size);
	g.append("g").attr("transform", "translate(" + x(0) + ",0)")
		.call(d3.axisLeft(y).tickValues(ticks).tickSize(tickLen).tickPadding(2).tickFormat(comma))
		.call(styleAxis, 1.3, size);
	g.append("g").attr("transform", "translate(" + x(0) + ",0)")
		.call(d3.axisLeft(y).tickValues(minors).tickSize(tickLen - 1.5).tickFormat(""))
		.call(styleAxis, 1, size);
}

// ---- stimulus site panels
var siteXLabel = [485, 752, 1020], siteYLabel = [356, 622, 890];
sitePanels.forEach(function (p, n) {
	var x = d3.scaleLinear().domain([0, 1]).range([panelLefts[n], panelLefts[n] + panelSize]);
	var y = d3.scaleLinear().domain([0, 1]).range([369.3, 164.3]);
	var g = svg.append("g");
	g.append("rect").attr("x", x(0)).attr("y", y(1)).attr("width", panelSize).attr("height", panelSize)
		.attr("fill", "none").attr("stroke", "#444").attr("stroke-width", 1.2);
	squareAxes(g, x, y, 11.5, 4, 3);
	// inward ticks on top and right
	g.append("g").attr("transform", "translate(0," + y(1) + ")")
		.call(d3.axisTop(x).tickValues(d3.range(0, 1.01, .1)).tickSize(-2.5).tickFormat(""))
		.call(styleAxis, 1, 11);
	g.append("g").attr("transform", "translate(" + x(1) + ",0)")
		.call(d3.axisRight(y).tickValues(d3.range(0, 1.01, .1)).tickSize(-2.5).tickFormat(""))
		.call(styleAxis, 1, 11);
	g.selectAll("circle").data(p.names).enter().append("circle")
		.attr("cx", function (d, i) { return x(p.xs[i]); })
		.attr("cy", function (d, i) { return y(p.ys[i]); })
		.attr("r", 12.7)
		.attr("fill", function (d, i) { return p.colors[i]; });
	g.selectAll(".siteName").data(p.names).enter().append("text").attr("class", "siteName")
		.attr("x", function (d, i) { return x(p.nameXs[i]); })
		.attr("y", function (d, i) { return y(p.nameYs[i]); })
		.attr("text-anchor", "middle").attr("dominant-baseline", "central")
		.style("font-size", "22px").style("font-weight", "bold")
		.text(function (d) { return d; });
	addText(siteXLabel[n], 393, "X/L", 14, { bold: true });
	addText(siteYLabel[n], 266, "Y/L", 14, { bold: true, rotate: true });
});

// ---- Ibg contour maps
var mapXLabel = [486.7, 752.7, 1020], mapXLabelY = [650, 648, 646], mapYLabel = [351, 622, 890];
var defs = svg.append("defs");
var mapFills = { light: "#dcdcdc", base: "#a3a3a3", dark: "#6c6c6c", darker: "#3c3c3c" };
var mapStroke = "#3a3a3a";

mapPanels.forEach(function (p, n) {
	var x = d3.scaleLinear().domain([0, 1]).range([panelLefts[n], panelLefts[n] + panelSize]);
	var y = d3.scaleLinear().domain([0, 1]).range([619.3, 414.7]);
	var blob = d3.line()
		.x(function (d) { return x(d[0]); })
		.y(function (d) { return y(d[1]); })
		.curve(d3.curveCatmullRomClosed.alpha(0));
	var edgeLine = d3.line()
		.x(function (d) { return x(d[0]); })
		.y(function (d) { return y(d[1]); });

	defs.append("clipPath").attr("id", "mapClip" + n)
		.append("path").attr("d", edgeLine(p.edge) + "Z");

	var g = svg.append("g");
	g.append("path").attr("d", edgeLine(p.edge) + "Z").attr("fill", mapFills.base);
	var inner = g.append("g").attr("clip-path", "url(#mapClip" + n + ")");

	function layer(shapes, spots, fill) {
		inner.append("g").selectAll("path").data(shapes).enter().append("path")
			.attr("d", blob)
			.attr("fill", fill).attr("stroke", mapStroke).attr("stroke-width", 0.7);
		inner.append("g").selectAll("circle").data(spots).enter().append("circle")
			.attr("cx", function (d) { return x(d[0]); })
			.attr("cy", function (d) { return y(d[1]); })
			.attr("r", function (d) { return x(d[2]) - x(0); })
			.attr("fill", fill).attr("stroke", mapStroke).attr("stroke-width", 0.7);
	}
	layer(p.light, p.lightSpots, mapFills.light);
	layer(p.holes, p.holeSpots, mapFills.base);
	layer(p.dark, p.darkSpots, mapFills.dark);
	layer(p.darker, p.darkerSpots, mapFills.darker);

	g.append("path").attr("d", edgeLine(p.edge) + "Z").attr("fill", "none").attr("stroke", "#777").attr("stroke-width", 0.8);
	squareAxes(svg.append("g"), x, y, mapLabelSizes[n], 4, 7);
	addText(mapXLabel[n], mapXLabelY[n], "X/L", 14, { bold: true });
	addText(mapYLabel[n], 516, "Y/L", 14, { bold: true, rotate: true });
});

// ---- colour legend
var legendY = d3.scaleLinear().domain([20, 15]).range([448.3, 572.7]);
svg.append("g").selectAll("rect")
	.data(legendColors)
	.enter().append("rect")
	.attr("x", 1127.7).attr("width", 33.3)
	.attr("y", function (d, i) { return legendY(legendLevels[i]); })
	.attr("height", function (d, i) { return legendY(legendLevels[i + 1]) - legendY(legendLevels[i]); })
	.attr("fill", function (d) { return d; });
svg.append("g").attr("transform", "translate(1161,0)")
	.call(d3.axisRight(legendY).tickValues(legendLevels).tickSize(0).tickPadding(5).tickFormat(d3.format("d")))
	.call(styleAxis, 0, 14.5)
	.call(function (g) { g.select(".domain").remove(); });
var legendTitle = addText(1129, 423, "I", 13.5, { bold: true, anchor: "start" });
legendTitle.append("tspan").attr("dy", 4).style("font-size", "8.5px").text("bg");
legendTitle.append("tspan").attr("dy", -4).text(" (pA)");
</script>
</body>
</html>
